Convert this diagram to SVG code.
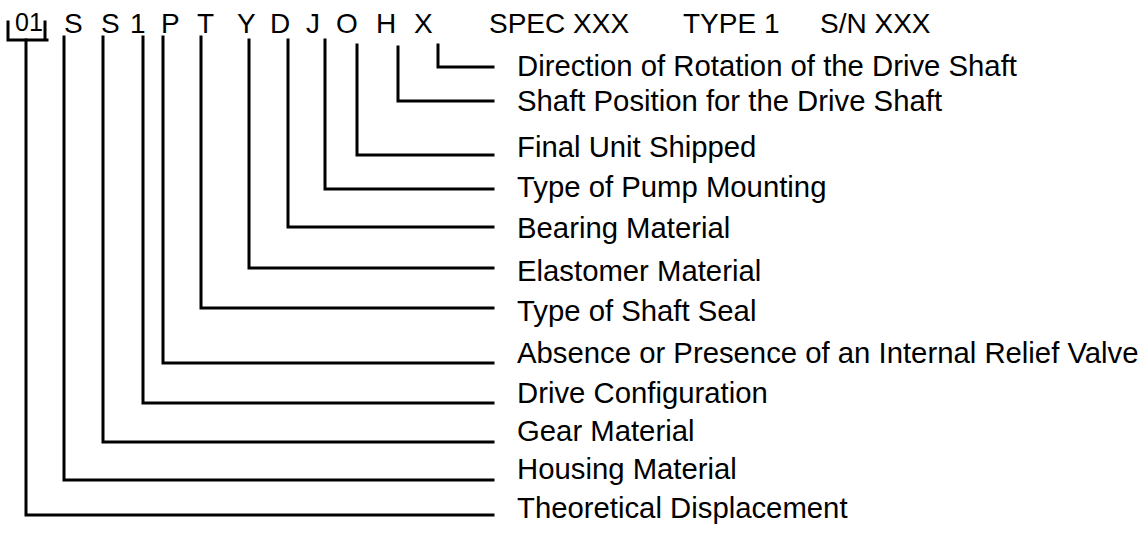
<svg xmlns="http://www.w3.org/2000/svg" width="1144" height="533" viewBox="0 0 1144 533">
<style>
text{font-family:"Liberation Sans",Arial,sans-serif;fill:#000}
.code{font-size:28px}
.lbl{font-size:29.3px}
.ln{fill:none;stroke:#000;stroke-width:3;stroke-linecap:square;stroke-linejoin:miter}
</style>
<rect width="1144" height="533" fill="#fff"/>
<g id="header">
<text x="15" y="31" style="font-size:25px">01</text>
<text class="code" x="64" y="33">S</text>
<text class="code" x="101" y="33">S</text>
<text class="code" x="130" y="33">1</text>
<text class="code" x="161" y="33">P</text>
<text class="code" x="197" y="33">T</text>
<text class="code" x="237" y="33">Y</text>
<text class="code" x="270" y="33">D</text>
<text class="code" x="306" y="33">J</text>
<text class="code" x="336" y="33">O</text>
<text class="code" x="376" y="33">H</text>
<text class="code" x="414" y="33">X</text>
<text class="code" x="489" y="33">SPEC XXX</text>
<text class="code" x="683" y="33">TYPE 1</text>
<text class="code" x="820" y="33">S/N XXX</text>
</g>
<g id="connectors">
<path class="ln" d="M8,22 V40 H47 M45,22 V40"/>
<path class="ln" d="M26,40 V515 H493"/>
<path class="ln" d="M64,37 V480 H493"/>
<path class="ln" d="M103,37 V442 H493"/>
<path class="ln" d="M143,37 V403 H493"/>
<path class="ln" d="M163,37 V363 H493"/>
<path class="ln" d="M201,37 V308 H493"/>
<path class="ln" d="M249,40 V268 H493"/>
<path class="ln" d="M288,40 V227 H493"/>
<path class="ln" d="M325,40 V189 H493"/>
<path class="ln" d="M357,45 V155 H493"/>
<path class="ln" d="M398,47 V101 H493"/>
<path class="ln" d="M438,45 V67 H493"/>
</g>
<g id="n-x"><text class="lbl" x="517" y="76">Direction of Rotation of the Drive Shaft</text></g>
<g id="n-h"><text class="lbl" x="517" y="111">Shaft Position for the Drive Shaft</text></g>
<g id="n-o"><text class="lbl" x="517" y="157">Final Unit Shipped</text></g>
<g id="n-j"><text class="lbl" x="517" y="197">Type of Pump Mounting</text></g>
<g id="n-d"><text class="lbl" x="517" y="238">Bearing Material</text></g>
<g id="n-y"><text class="lbl" x="517" y="281">Elastomer Material</text></g>
<g id="n-t"><text class="lbl" x="517" y="321">Type of Shaft Seal</text></g>
<g id="n-p"><text class="lbl" x="517" y="363">Absence or Presence of an Internal Relief Valve</text></g>
<g id="n-1"><text class="lbl" x="517" y="403">Drive Configuration</text></g>
<g id="n-s2"><text class="lbl" x="517" y="441">Gear Material</text></g>
<g id="n-s1"><text class="lbl" x="517" y="479">Housing Material</text></g>
<g id="n-01"><text class="lbl" x="517" y="518">Theoretical Displacement</text></g>
</svg>
